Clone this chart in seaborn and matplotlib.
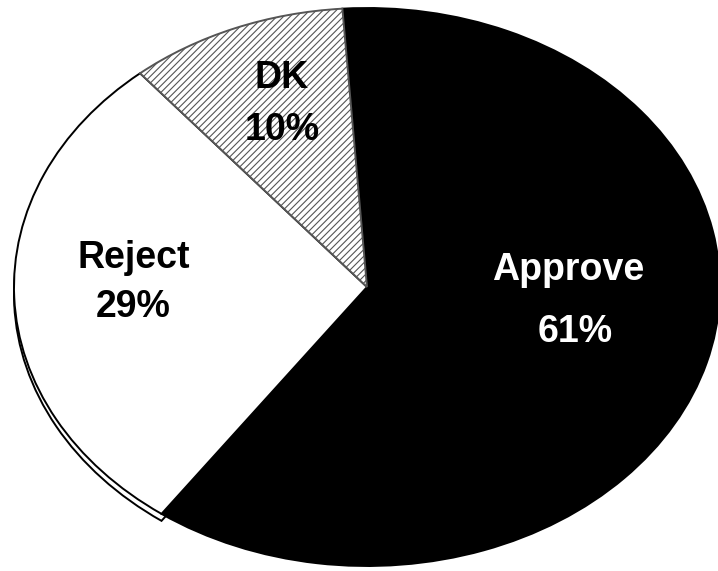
import matplotlib
matplotlib.use("Agg")
import matplotlib.pyplot as plt
import seaborn as sns

sns.set_theme(style="white")
plt.rcParams["font.family"] = ["Liberation Sans", "DejaVu Sans"]
plt.rcParams["hatch.linewidth"] = 0.8

# Survey answers (percent)
categories = ["Approve", "Reject", "DK"]
shares = [61, 29, 10]
pct_labels = ["61%", "29%", "10%"]
fills = ["black", "white", "white"]
hatches = [None, None, "/////"]
text_colors = ["white", "black", "black"]

W, H = 718, 571
fig = plt.figure(figsize=(W / 100, H / 100), dpi=100)
ax = fig.add_axes([0, 0, 1, 1])

# pixel geometry of the tilted pie
cx, cy, rx, ry = 367, 287, 353, 279

def to_data(px, py):
    return (px - cx) / rx, (cy - py) / ry

# side wall of the pie, visible under the Reject slice
side, _ = ax.pie([shares[1], 100 - shares[1]], startangle=94 - 3.6 * shares[0],
                 counterclock=False, radius=1, center=(0, -7 / ry),
                 colors=["white", "none"],
                 wedgeprops=dict(edgecolor="black", linewidth=1.4))
side[1].set_visible(False)

wedges, _ = ax.pie(shares, startangle=94, counterclock=False, radius=1,
                   center=(0, 0), colors=fills,
                   wedgeprops=dict(edgecolor="black", linewidth=1.4))
for w, h in zip(wedges, hatches):
    if h:
        w.set_hatch(h)
        w.set_edgecolor("#555555")
        w.set_linewidth(1.4)

ax.set_aspect("auto")
x0, y0 = to_data(0, H)
x1, y1 = to_data(W, 0)
ax.set_xlim(x0, x1)
ax.set_ylim(y0, y1)
ax.axis("off")

# label baselines in pixels: (name x, name baseline, pct x, pct baseline)
label_pos = [(568, 280, 575, 342), (134, 268, 133, 317), (282, 88, 282, 140)]
for name, pct, col, (nx, ny, px, py) in zip(categories, pct_labels, text_colors, label_pos):
    ax.text(*to_data(nx, ny), name, color=col, fontsize=27, fontweight="bold",
            ha="center", va="baseline")
    ax.text(*to_data(px, py), pct, color=col, fontsize=27, fontweight="bold",
            ha="center", va="baseline")

fig.savefig("out.png", dpi=100, facecolor="white")
